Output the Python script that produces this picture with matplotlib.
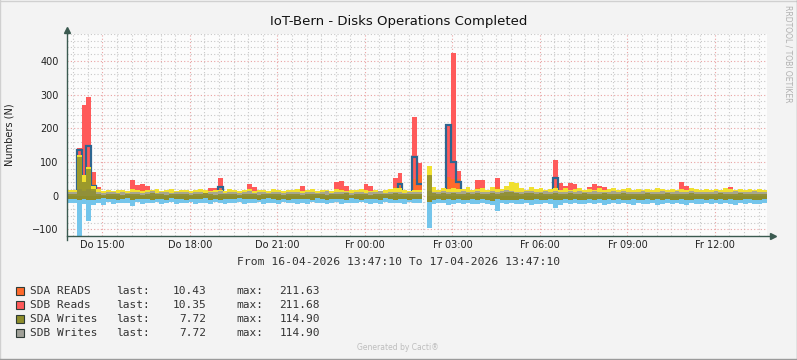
import numpy as np
import matplotlib
matplotlib.use('Agg')
import matplotlib.pyplot as plt
from matplotlib.patches import Rectangle
from matplotlib.lines import Line2D

nan = np.nan

# 10-minute samples, 16-04 13:47:10 -> 17-04 13:47:10
sdb_reads = [
    9, 10, 140, 270, 293, 70, 25, 10, 9, 11, 10, 9,
    10, 47, 32, 35, 30, 11, 9, 10, 11, 9, 10, 11,
    9, 10, 11, 9, 10, 24, 24, 53, 11, 10, 9, 10,
    11, 35, 25, 10, 9, 11, 10, 9, 10, 11, 9, 10,
    30, 10, 9, 11, 10, 9, 10, 40, 42, 30, 10, 9,
    11, 35, 30, 10, 9, 11, 10, 53, 68, 11, 10, 232,
    97, nan, 11, 10, 9, 11, 210, 424, 72, 16, 10, 11,
    47, 45, 10, 11, 53, 9, 10, 11, 10, 9, 11, 10,
    9, 10, 11, 9, 105, 38, 30, 38, 35, 11, 10, 25,
    33, 28, 25, 10, 9, 11, 10, 9, 10, 11, 9, 10,
    11, 9, 10, 11, 9, 10, 39, 30, 11, 10, 9, 10,
    11, 10, 9, 11, 27, 10, 9, 11, 10, 9, 11, 10,
]
sda_reads = [
    7, 8, 100, 40, 80, 45, 15, 8, 7, 8, 9, 7,
    8, 20, 15, 16, 14, 8, 7, 8, 9, 7, 8, 9,
    7, 8, 9, 7, 8, 12, 12, 20, 9, 8, 7, 8,
    9, 15, 12, 8, 7, 9, 8, 7, 8, 9, 7, 8,
    14, 8, 7, 9, 8, 7, 8, 18, 20, 14, 8, 7,
    9, 16, 14, 8, 7, 9, 8, 25, 40, 9, 8, 50,
    60, nan, 9, 8, 7, 9, 55, 50, 50, 12, 8, 9,
    22, 20, 8, 9, 25, 7, 8, 9, 8, 7, 9, 8,
    7, 8, 9, 7, 30, 18, 14, 18, 16, 9, 8, 12,
    15, 13, 12, 8, 7, 9, 8, 7, 8, 9, 7, 8,
    9, 7, 8, 9, 7, 8, 18, 14, 9, 8, 7, 8,
    9, 8, 7, 9, 12, 8, 7, 9, 8, 7, 9, 8,
]
total_ops = [
    16, 18, 120, 60, 86, 30, 19, 15, 17, 14, 18, 16,
    15, 19, 17, 14, 18, 16, 20, 15, 17, 19, 14, 16,
    18, 15, 17, 20, 16, 14, 18, 17, 15, 19, 16, 14,
    17, 19, 15, 18, 16, 14, 20, 17, 15, 18, 16, 19,
    14, 17, 20, 15, 18, 16, 14, 19, 17, 15, 18, 16,
    20, 17, 15, 18, 14, 16, 19, 22, 24, 17, 15, 18,
    16, nan, 88, 26, 18, 22, 20, 24, 21, 19, 25, 18,
    20, 23, 17, 27, 21, 19, 30, 41, 38, 22, 18, 26,
    19, 23, 17, 21, 24, 18, 22, 16, 20, 24, 17, 21,
    18, 22, 16, 20, 23, 17, 19, 22, 16, 21, 18, 20,
    17, 22, 19, 16, 21, 18, 20, 17, 23, 19, 16, 21,
    18, 20, 17, 22, 19, 16, 21, 18, 20, 17, 19, 18,
]
sdb_writes = [
    10, 12, 20, 15, 20, 14, 11, 9, 12, 10, 8, 11,
    9, 12, 10, 8, 11, 13, 9, 10, 12, 8, 11, 10,
    12, 9, 11, 10, 8, 12, 10, 13, 9, 11, 10, 8,
    11, 13, 9, 10, 12, 8, 11, 10, 9, 12, 10, 11,
    9, 11, 12, 8, 10, 13, 9, 11, 10, 12, 8, 10,
    12, 9, 11, 10, 13, 8, 10, 12, 11, 9, 12, 10,
    11, nan, 14, 12, 10, 13, 11, 12, 10, 14, 12, 11,
    13, 11, 12, 15, 10, 13, 16, 14, 12, 11, 13, 15,
    10, 12, 14, 11, 13, 12, 10, 13, 11, 14, 12, 10,
    13, 11, 12, 10, 14, 11, 13, 12, 10, 12, 14, 11,
    12, 10, 13, 11, 12, 14, 10, 12, 13, 11, 10, 12,
    11, 13, 10, 12, 11, 13, 12, 10, 11, 13, 12, 11,
]
sda_writes = [
    4, 6, 115, 40, 80, 20, 5, 3, 6, 4, 5, 3,
    5, 4, 6, 3, 5, 7, 4, 5, 3, 6, 4, 5,
    6, 3, 5, 4, 7, 5, 3, 6, 4, 5, 6, 3,
    4, 6, 5, 3, 5, 4, 6, 5, 3, 4, 6, 5,
    3, 5, 6, 4, 5, 3, 6, 4, 5, 7, 3, 5,
    6, 4, 3, 5, 6, 4, 5, 7, 6, 4, 5, 6,
    5, nan, 60, 8, 5, 7, 6, 9, 6, 5, 8, 6,
    7, 6, 5, 9, 6, 7, 10, 12, 9, 6, 7, 8,
    5, 7, 6, 4, 8, 6, 5, 7, 6, 5, 7, 6,
    6, 5, 7, 4, 6, 5, 7, 6, 4, 6, 5, 7,
    5, 6, 4, 7, 5, 6, 4, 6, 7, 5, 6, 4,
    6, 5, 7, 4, 6, 5, 7, 6, 5, 4, 6, 5,
]
reads_peak = [
    5, 6, 136, 45, 146, 30, 7, 5, 6, 4, 5, 6,
    5, 8, 6, 7, 6, 5, 4, 6, 5, 4, 6, 5,
    4, 5, 6, 5, 4, 6, 5, 27, 5, 4, 6, 5,
    6, 7, 5, 4, 6, 5, 4, 5, 6, 4, 5, 6,
    5, 4, 6, 5, 4, 5, 6, 8, 9, 6, 5, 4,
    6, 7, 6, 5, 4, 6, 5, 12, 33, 5, 6, 116,
    35, nan, 6, 5, 7, 6, 210, 100, 40, 8, 6, 5,
    12, 10, 6, 5, 14, 6, 5, 7, 6, 5, 6, 5,
    6, 5, 4, 6, 53, 9, 7, 9, 8, 5, 6, 6,
    7, 6, 5, 4, 6, 5, 6, 5, 4, 6, 5, 6,
    5, 6, 4, 5, 6, 5, 9, 7, 5, 4, 6, 5,
    6, 5, 4, 6, 7, 5, 6, 4, 5, 6, 5, 4,
]
writes_neg = [
    -9, -11, -14, -10, -14, -12, -10, -8, -11, -9, -12, -10,
    -8, -12, -10, -9, -11, -13, -9, -10, -12, -8, -11, -10,
    -12, -9, -11, -10, -8, -12, -10, -13, -9, -11, -10, -8,
    -11, -10, -9, -12, -10, -8, -11, -13, -9, -12, -10, -11,
    -9, -11, -12, -8, -10, -13, -9, -11, -10, -12, -8, -10,
    -12, -9, -11, -10, -13, -8, -10, -12, -11, -9, -12, -10,
    -11, nan, -20, -12, -10, -13, -11, -12, -10, -14, -12, -11,
    -13, -11, -12, -15, -10, -13, -12, -14, -12, -11, -13, -12,
    -10, -12, -14, -11, -13, -12, -10, -13, -11, -14, -12, -10,
    -13, -11, -12, -10, -14, -11, -13, -12, -10, -12, -14, -11,
    -12, -10, -13, -11, -12, -14, -10, -12, -13, -11, -10, -12,
    -11, -13, -10, -12, -11, -13, -12, -10, -11, -13, -12, -11,
]
pending_neg = [
    -21, -23, -130, -25, -76, -28, -22, -28, -20, -24, -21, -23,
    -22, -30, -20, -24, -21, -23, -19, -25, -22, -20, -24, -21,
    -23, -20, -25, -21, -22, -24, -20, -23, -26, -21, -23, -20,
    -24, -21, -23, -20, -25, -22, -21, -24, -20, -23, -22, -25,
    -21, -24, -20, -23, -22, -25, -21, -20, -24, -22, -23, -21,
    -20, -23, -25, -21, -24, -20, -22, -23, -21, -25, -20, -23,
    -22, nan, -95, -25, -23, -21, -27, -24, -22, -26, -23, -24,
    -25, -22, -24, -27, -47, -23, -25, -22, -26, -24, -23, -27,
    -24, -26, -22, -25, -36, -27, -23, -25, -22, -26, -24, -23,
    -25, -22, -27, -24, -23, -26, -22, -25, -28, -23, -24, -26,
    -23, -27, -24, -22, -26, -23, -25, -27, -22, -24, -26, -23,
    -25, -23, -26, -22, -24, -27, -23, -25, -22, -26, -24, -23,
]

tick_labels = ['Do 15:00', 'Do 18:00', 'Do 21:00', 'Fr 00:00',
               'Fr 03:00', 'Fr 06:00', 'Fr 09:00', 'Fr 12:00']
legend_names = ['SDA READS', 'SDB Reads', 'SDA Writes', 'SDB Writes']
legend_last = ['10.43', '10.35', '7.72', '7.72']
legend_max = ['211.63', '211.68', '114.90', '114.90']
legend_colors = ['#FF6A2C', '#FF5A5A', '#8E8D2B', '#A0A098']

W, H = 797, 360
fig = plt.figure(figsize=(W / 100, H / 100), dpi=100, facecolor='#F3F3F3')
ax = fig.add_axes([67 / W, (H - 236) / H, 700 / W, 202 / H])
ax.set_facecolor('#FCFCFC')

edges = np.arange(len(sdb_reads) + 1) / 6.0

ax.stairs(pending_neg, edges, baseline=0, fill=True, color='#74C5EB', zorder=2)
ax.stairs(sdb_reads, edges, baseline=0, fill=True, color='#FF5A5A', zorder=2.1)
ax.stairs(sda_reads, edges, baseline=0, fill=True, color='#FF6A2C', zorder=2.2)
ax.stairs(reads_peak, edges, baseline=None, color='#2D6590', lw=1.6, zorder=2.3)
ax.stairs(total_ops, edges, baseline=0, fill=True, color='#F0E030', zorder=2.4)
ax.stairs(sdb_writes, edges, baseline=0, fill=True, color='#A0A098', alpha=0.9, zorder=2.5)
ax.stairs(writes_neg, edges, baseline=0, fill=True, color='#8E8D2B', zorder=2.6)
ax.stairs(sda_writes, edges, baseline=0, fill=True, color='#8E8D2B', alpha=0.85, zorder=2.6)

ax.set_xlim(0, 24)
ax.set_ylim(-120, 480)

t0 = 1 + 12 / 60 + 50 / 3600
ax.set_xticks(t0 + 3 * np.arange(len(tick_labels)))
ax.set_xticklabels(tick_labels)
ax.set_xticks(np.arange(t0 - 1.0, 24, 0.5), minor=True)
ax.set_yticks(np.arange(-100, 401, 100))
ax.set_yticks(np.arange(-120, 481, 20), minor=True)
ax.tick_params(which='both', length=0, labelsize=7, colors='#222222')
ax.tick_params(axis='x', pad=3)
ax.tick_params(axis='y', pad=6)

ax.set_axisbelow(True)
ax.grid(which='minor', color='#C8C8C8', ls=(0, (1, 2)), lw=0.8)
ax.grid(which='major', color='#E9A2A2', ls=(0, (1, 2)), lw=0.8)
for s in ax.spines.values():
    s.set_visible(False)

axc = '#3B5A50'
ax.plot([0, 1.008], [0, 0], transform=ax.transAxes, color=axc, lw=1, clip_on=False, zorder=5)
ax.plot([0, 0], [-0.02, 1.02], transform=ax.transAxes, color=axc, lw=1, clip_on=False, zorder=5)
ax.plot([1.008], [0], marker='>', ms=4, color=axc, transform=ax.transAxes, clip_on=False, zorder=5)
ax.plot([0], [1.02], marker='^', ms=4, color=axc, transform=ax.transAxes, clip_on=False, zorder=5)

def fx(x):
    return x / W

def fy(y):
    return 1 - y / H

fig.text(0.5, fy(22), 'IoT-Bern - Disks Operations Completed', ha='center', va='center',
         fontsize=9.5, color='#111111')
fig.text(fx(10), fy(135), 'Numbers (N)', rotation=90, ha='center', va='center',
         fontsize=7, color='#222222')
fig.text(fx(399), fy(262), 'From 16-04-2026 13:47:10 To 17-04-2026 13:47:10',
         ha='center', va='center', family='DejaVu Sans Mono', fontsize=8.2, color='#333333')
fig.text(fx(788), fy(5), 'RRDTOOL / TOBI OETIKER', rotation=270, ha='center', va='top',
         fontsize=5.5, color='#B0B0B0')
fig.text(fx(398), fy(348), 'Generated by Cacti\u00ae', ha='center', va='center',
         fontsize=5.5, color='#BDBDBD')

rows = [291, 305, 319, 333]
for y, name, last, mx, col in zip(rows, legend_names, legend_last, legend_max, legend_colors):
    fig.add_artist(Rectangle((fx(16), fy(y + 4)), 8 / W, 8 / H, transform=fig.transFigure,
                             facecolor=col, edgecolor='#2E3B36', lw=0.8))
    kw = dict(va='center', family='DejaVu Sans Mono', fontsize=8, color='#333333')
    fig.text(fx(30), fy(y), name, ha='left', **kw)
    fig.text(fx(116), fy(y), 'last:', ha='left', **kw)
    fig.text(fx(206), fy(y), last, ha='right', **kw)
    fig.text(fx(236), fy(y), 'max:', ha='left', **kw)
    fig.text(fx(320), fy(y), mx, ha='right', **kw)

# frame
fig.add_artist(Line2D([0, 1], [0.9985, 0.9985], transform=fig.transFigure, color='#D0D0D0', lw=1))
fig.add_artist(Line2D([0.0006, 0.0006], [0, 1], transform=fig.transFigure, color='#D0D0D0', lw=1))
fig.add_artist(Line2D([0, 1], [0.0015, 0.0015], transform=fig.transFigure, color='#9A9A9A', lw=1))
fig.add_artist(Line2D([0.9994, 0.9994], [0, 1], transform=fig.transFigure, color='#9A9A9A', lw=1))

fig.savefig('out.png', dpi=100, facecolor=fig.get_facecolor())
